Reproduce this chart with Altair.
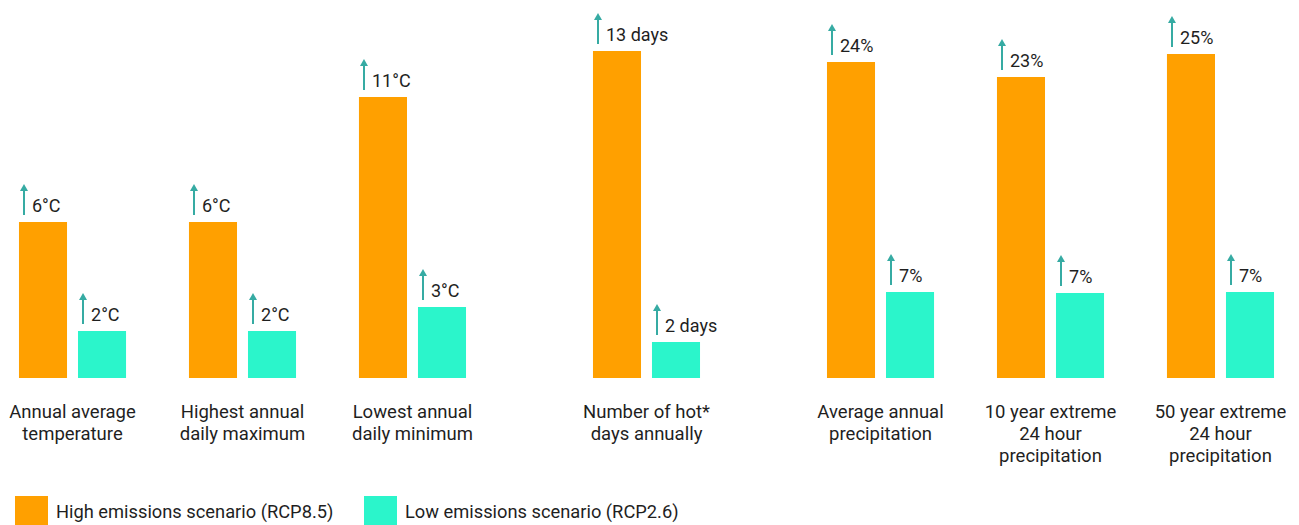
import altair as alt
import pandas as pd

categories = [
    "Annual average|temperature",
    "Highest annual|daily maximum",
    "Lowest annual|daily minimum",
    "Number of hot*|days annually",
    "Average annual|precipitation",
    "10 year extreme|24 hour|precipitation",
    "50 year extreme|24 hour|precipitation",
]
panel_of = [1, 1, 1, 2, 3, 3, 3]
high_labels = ["6°C", "6°C", "11°C", "13 days", "24%", "23%", "25%"]
low_labels = ["2°C", "2°C", "3°C", "2 days", "7%", "7%", "7%"]
# relative bar heights as drawn in the picture
high_heights = [156, 156, 281, 327, 316, 301, 324]
low_heights = [47, 47, 71, 36, 86, 85, 86]
scenarios = ["High emissions scenario (RCP8.5)", "Low emissions scenario (RCP2.6)"]
colors = ["#FFA000", "#2BF5CB"]
arrow_color = "#36ABA3"
text_color = "#1f1f1f"

rows = []
for i, c in enumerate(categories):
    rows.append(dict(cat=c, panel=panel_of[i], scenario=scenarios[0], h=high_heights[i], label=high_labels[i]))
    rows.append(dict(cat=c, panel=panel_of[i], scenario=scenarios[1], h=low_heights[i], label=low_labels[i]))
df = pd.DataFrame(rows)

legend = alt.Legend(
    title=None, orient="none", legendX=7, legendY=488, direction="horizontal",
    symbolType="square", symbolSize=1089, symbolStrokeWidth=0,
    labelFontSize=18.3, labelFont="Roboto", labelColor=text_color,
    labelOffset=8, columnPadding=30, labelLimit=400,
)


def panel(p, width):
    cats = [c for c, pp in zip(categories, panel_of) if pp == p]
    base = alt.Chart(df).transform_filter(alt.datum.panel == p).transform_calculate(
        a0="datum.h + 7", a1="datum.h + 32", a2="datum.h + 34.5"
    )
    x = alt.X(
        "cat:N", sort=cats, title=None,
        scale=alt.Scale(paddingInner=0.241, paddingOuter=0),
        axis=alt.Axis(
            labelAngle=0, ticks=False, tickSize=0, domain=False, grid=False,
            labelExpr="split(datum.label, '|')", labelFontSize=18.5, labelFont="Roboto",
            labelColor=text_color, labelLineHeight=22, labelPadding=24, labelLimit=300,
        ),
    )
    xo_bar = alt.XOffset("scenario:N", sort=scenarios,
                         scale=alt.Scale(paddingInner=0.186, paddingOuter=0.186))
    xo_arrow = alt.XOffset("scenario:N", sort=scenarios,
                           scale=alt.Scale(type="point", padding=0.593, align=0.2286))
    ysc = alt.Scale(domain=[0, 370])
    color = alt.Color("scenario:N", sort=scenarios,
                      scale=alt.Scale(domain=scenarios, range=colors), legend=legend)
    bars = base.mark_bar().encode(
        x=x, xOffset=xo_bar, y=alt.Y("h:Q", scale=ysc, axis=None), color=color
    )
    text = base.mark_text(align="left", baseline="alphabetic", dx=-11, dy=-10,
                          fontSize=18, font="Roboto", color=text_color).encode(
        x=x, xOffset=xo_bar, y=alt.Y("h:Q", scale=ysc, axis=None), text="label:N"
    )
    shaft = base.mark_rule(color=arrow_color, strokeWidth=2).encode(
        x=x, xOffset=xo_arrow, y=alt.Y("a0:Q", scale=ysc, axis=None), y2="a1:Q"
    )
    head = base.mark_point(shape="triangle-up", filled=True, size=64, opacity=1,
                           color=arrow_color).encode(
        x=x, xOffset=xo_arrow, y=alt.Y("a2:Q", scale=ysc, axis=None)
    )
    bar_layer = alt.layer(bars, text)
    arrow_layer = alt.layer(shaft, head)
    return alt.layer(bar_layer, arrow_layer).resolve_scale(xOffset="independent").properties(
        width=width, height=370
    )


chart = alt.hconcat(panel(1, 469), panel(2, 129), panel(3, 469), spacing=105).properties(
    bounds="flush"
).configure(padding=0).configure_view(stroke=None)

chart.save("out.html", embed_options={"renderer": "svg", "actions": False})
